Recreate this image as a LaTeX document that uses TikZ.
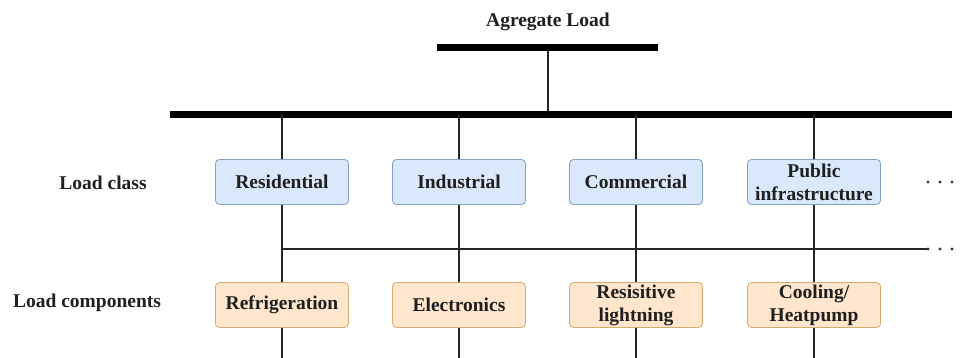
\documentclass[tikz,border=0pt]{standalone}
\usepackage{fontspec}
\setmainfont{Liberation Serif}
\begin{document}
\begin{tikzpicture}[x=1pt,y=-1pt,
  bus/.style={line width=7pt},
  wire/.style={line width=2pt, draw=black!85},
  classbox/.style={draw={rgb,255:red,130;green,160;blue,200}, fill={rgb,255:red,218;green,232;blue,252}, rounded corners=4pt, line width=0.8pt, minimum width=133pt, minimum height=45pt, align=center, inner sep=1pt, font=\fontsize{19.5}{23}\selectfont\bfseries, text=black!88},
  compbox/.style={classbox, draw={rgb,255:red,215;green,170;blue,110}, fill={rgb,255:red,255;green,230;blue,204}},
  lbl/.style={font=\fontsize{19.5}{23}\selectfont\bfseries, text=black!88, inner sep=0pt},
  dot/.style={circle, fill=black!80, inner sep=0pt, minimum size=3.4pt}
]
\useasboundingbox (0,0) rectangle (961,358);
% buses
\node[lbl] (agg) at (548,22) {Agregate Load};
\coordinate (topL) at (437,48);
\coordinate (topR) at (658,48);
\coordinate (topM) at (548,48);
\coordinate (busL) at (170,115);
\coordinate (busR) at (952,115);
\coordinate (busM) at (548,115);
\draw[wire] (topM) -- (busM);
\draw[bus] (topL) -- (topR);
\draw[bus] (busL) -- (busR);
% taps
\foreach \i/\x in {1/282,2/459,3/636,4/814}{
  \coordinate (t\i) at (\x,115);
  \coordinate (e\i) at (\x,358);
}
% horizontal line between rows
\coordinate (hL) at (282,249);
\coordinate (hR) at (928,249);
% labels
\node[lbl] (lc) at (103,183) {Load class};
\node[lbl] (lcomp) at (87,303) {Load components};
% boxes
\node[classbox] (res) at (282,182) {Residential};
\node[classbox] (ind) at (459,182) {Industrial};
\node[classbox] (com) at (636,182) {Commercial};
\node[classbox] (pub) at (814,182) {Public\\infrastructure};
\node[compbox] (ref) at (282,305) {Refrigeration};
\node[compbox] (ele) at (459,305) {Electronics};
\node[compbox] (rsl) at (636,305) {Resisitive\\lightning};
\node[compbox] (coo) at (814,305) {Cooling/\\Heatpump};
% vertical connectors
\draw[wire] (t1) -- (res); \draw[wire] (res) -- (ref); \draw[wire] (ref) -- (e1);
\draw[wire] (t2) -- (ind); \draw[wire] (ind) -- (ele); \draw[wire] (ele) -- (e2);
\draw[wire] (t3) -- (com); \draw[wire] (com) -- (rsl); \draw[wire] (rsl) -- (e3);
\draw[wire] (t4) -- (pub); \draw[wire] (pub) -- (coo); \draw[wire] (coo) -- (e4);
\draw[wire] (hL) -- (hR);
% dots
\node[dot] (d1) at (928,182) {};
\node[dot] (d2) at (940,182) {};
\node[dot] (d3) at (952,182) {};
\node[dot] (d4) at (928,249) {};
\node[dot] (d5) at (940,249) {};
\node[dot] (d6) at (952,249) {};
\end{tikzpicture}
\end{document}
